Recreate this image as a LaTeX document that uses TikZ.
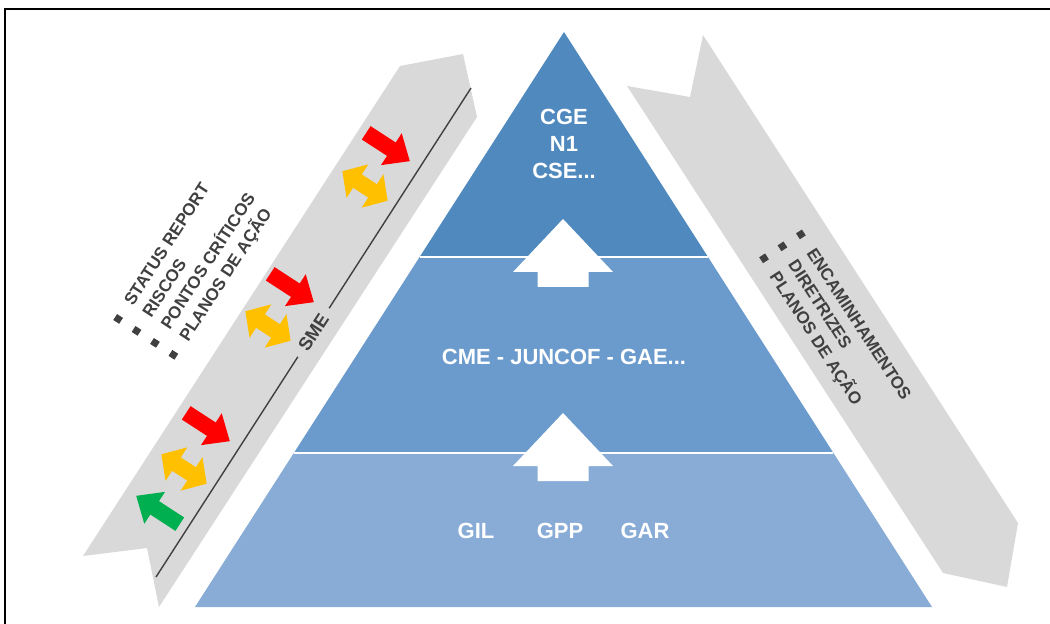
\documentclass[tikz,border=0pt]{standalone}
\usepackage{fontspec}
\setmainfont{Liberation Sans}
\usetikzlibrary{calc}
\definecolor{bandGray}{HTML}{D9D9D9}
\definecolor{lineGray}{HTML}{404040}
\definecolor{topBlue}{HTML}{4F89BE}
\definecolor{midBlue}{HTML}{6B9BCC}
\definecolor{lowBlue}{HTML}{88ACD6}
\definecolor{sigRed}{HTML}{FF0000}
\definecolor{sigYellow}{HTML}{FFC000}
\definecolor{sigGreen}{HTML}{00B050}
\newcommand{\bulletsq}{\rule[1.3pt]{4pt}{4pt}\hspace{8.5pt}}

\begin{document}
\begin{tikzpicture}[
    x=0.02cm, y=-0.02cm,
    band/.style={fill=bandGray, draw=none},
    levellabel/.style={text=white, font=\fontsize{12.5}{15.3}\selectfont\bfseries, align=center, inner sep=0pt},
    notelabel/.style={text=lineGray, font=\fontsize{9.7}{12.5}\selectfont\bfseries, align=left, inner sep=0pt, anchor=west},
    pics/onearrow/.style={code={
        \fill[#1] (-26,-8) -- (4,-8) -- (4,-19) -- (26,0) -- (4,19) -- (4,8) -- (-26,8) -- cycle;}},
    pics/twoarrow/.style={code={
        \fill[#1] (-27,0) -- (-9,-20) -- (-9,-8) -- (9,-8) -- (9,-20) -- (27,0)
                  -- (9,20) -- (9,8) -- (-9,8) -- (-9,20) -- cycle;}},
    pics/upblock/.style={code={
        \fill[white] (0,0) -- (50,53) -- (25.5,53) -- (25.5,68) -- (-25.5,68) -- (-25.5,53) -- (-50,53) -- cycle;}},
]
    \useasboundingbox (0,0) rectangle (1050,624);
    \draw[line width=1.4pt] (5,624) -- (5,9) -- (1050,9);

    % side bands
    \fill[band] (400,66) -- (463,54) -- (477,117) -- (159,607) -- (147,548) -- (83,556) -- cycle;
    \fill[band] (627,86) -- (690,97) -- (703,35) -- (1018,523) -- (1007,587) -- (943,573) -- cycle;

    % pyramid
    \coordinate (apex) at (564,32);
    \coordinate (baseL) at (195,607);
    \coordinate (baseR) at (932,607);
    \coordinate (cutL1) at ($(apex)!0.3913!(baseL)$);
    \coordinate (cutR1) at ($(apex)!0.3913!(baseR)$);
    \coordinate (cutL2) at ($(apex)!0.7322!(baseL)$);
    \coordinate (cutR2) at ($(apex)!0.7322!(baseR)$);
    \fill[topBlue] (apex) -- (cutR1) -- (cutL1) -- cycle;
    \fill[midBlue] (cutL1) -- (cutR1) -- (cutR2) -- (cutL2) -- cycle;
    \fill[lowBlue] (cutL2) -- (cutR2) -- (baseR) -- (baseL) -- cycle;
    \draw[white, line width=1.2pt] (cutL1) -- (cutR1);
    \draw[white, line width=1.2pt] (cutL2) -- (cutR2);

    \pic at (563,219) {upblock};
    \pic at (563,413) {upblock};

    \node[levellabel] (top) at (564,144) {CGE\\N1\\CSE...};
    \node[levellabel] (mid) at (564,357) {CME - JUNCOF - GAE...};
    \node[levellabel] (gil) at (476,531) {GIL};
    \node[levellabel] (gpp) at (560,531) {GPP};
    \node[levellabel] (gar) at (645,531) {GAR};

    % SME line
    \coordinate (smeBot) at (156,577);
    \coordinate (smeTop) at (471,88);
    \draw[lineGray, line width=0.8pt] (smeBot) -- (smeTop)
        node[midway, rotate=57, fill=bandGray, text=lineGray, inner xsep=5pt, inner ysep=2pt,
             font=\fontsize{10.5}{12}\selectfont\bfseries] (sme) {SME};

    % signals
    \pic[rotate=-33] at (388,147) {onearrow=sigRed};
    \pic[rotate=-33] at (365,186) {twoarrow=sigYellow};
    \pic[rotate=-33] at (292,288) {onearrow=sigRed};
    \pic[rotate=-33] at (268,326) {twoarrow=sigYellow};
    \pic[rotate=-33] at (208,427) {onearrow=sigRed};
    \pic[rotate=-33] at (184,469) {twoarrow=sigYellow};
    \pic[rotate=147] at (158,510) {onearrow=sigGreen};

    % notes
    \node[notelabel, rotate=57] (upnotes) at (145,341)
        {\bulletsq STATUS REPORT\\\bulletsq RISCOS\\\bulletsq PONTOS CRÍTICOS\\\bulletsq PLANOS DE AÇÃO};
    \node[notelabel, rotate=-57] (downnotes) at (779,244)
        {\bulletsq ENCAMINHAMENTOS\\\bulletsq DIRETRIZES\\\bulletsq PLANOS DE AÇÃO};
\end{tikzpicture}
\end{document}
